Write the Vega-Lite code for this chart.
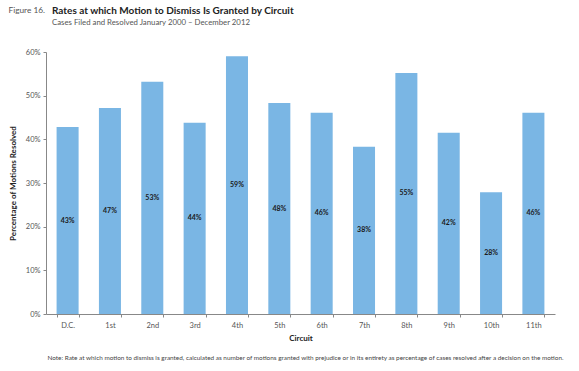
{
  "$schema": "https://vega.github.io/schema/vega-lite/v6.json",
  "width": 509,
  "height": 262,
  "autosize": {"type": "none"},
  "padding": {"left": 46, "top": 52, "right": 24, "bottom": 57},
  "background": "white",
  "config": {"view": {"stroke": null}, "font": "Lato"},
  "title": {
    "text": "Rates at which Motion to Dismiss Is Granted by Circuit",
    "subtitle": "Cases Filed and Resolved January 2000 – December 2012",
    "anchor": "start",
    "frame": "group",
    "dx": 6,
    "offset": -22,
    "font": "Lato",
    "fontSize": 10,
    "fontWeight": "bold",
    "color": "#222222",
    "subtitleFont": "Lato",
    "subtitleFontSize": 7.8,
    "subtitleColor": "#555555",
    "subtitlePadding": 3
  },
  "data": {
    "values": [
      {"circuit": "D.C.", "rate": 0.428},
      {"circuit": "1st", "rate": 0.472},
      {"circuit": "2nd", "rate": 0.532},
      {"circuit": "3rd", "rate": 0.438},
      {"circuit": "4th", "rate": 0.590},
      {"circuit": "5th", "rate": 0.483},
      {"circuit": "6th", "rate": 0.461},
      {"circuit": "7th", "rate": 0.383},
      {"circuit": "8th", "rate": 0.552},
      {"circuit": "9th", "rate": 0.415},
      {"circuit": "10th", "rate": 0.279},
      {"circuit": "11th", "rate": 0.461}
    ]
  },
  "encoding": {
    "x": {
      "field": "circuit",
      "type": "nominal",
      "sort": null,
      "scale": {"paddingInner": 0.48, "paddingOuter": 0.25}
    }
  },
  "layer": [
    {
      "mark": {"type": "bar", "color": "#7ab6e4"},
      "encoding": {
        "x": {
          "field": "circuit",
          "type": "nominal",
          "sort": null,
          "axis": {
            "orient": "bottom",
            "labelAngle": 0,
            "title": "Circuit",
            "titleFontWeight": "bold",
            "titleFontSize": 8,
            "titleColor": "#222222",
            "titlePadding": 6,
            "labelColor": "#555555",
            "labelFontSize": 7.5,
            "labelPadding": 4,
            "tickBand": "extent",
            "tickSize": 3,
            "tickColor": "#888888",
            "domainColor": "#888888"
          }
        },
        "y": {
          "field": "rate",
          "type": "quantitative",
          "scale": {"domain": [0, 0.6]},
          "axis": {
            "values": [0, 0.1, 0.2, 0.3, 0.4, 0.5, 0.6],
            "format": ".0%",
            "grid": false,
            "title": "Percentage of Motions Resolved",
            "titleFontWeight": "bold",
            "titleFontSize": 8,
            "titleColor": "#222222",
            "titlePadding": 8,
            "labelColor": "#555555",
            "labelFontSize": 7.5,
            "labelPadding": 3,
            "tickSize": 3,
            "tickColor": "#888888",
            "domainColor": "#888888"
          }
        }
      }
    },
    {
      "mark": {"type": "text", "fontSize": 7, "fontWeight": "bold", "color": "#1a1a1a", "baseline": "middle"},
      "encoding": {
        "x": {
          "field": "circuit",
          "type": "nominal",
          "sort": null,
          "axis": {
            "orient": "top",
            "labels": false,
            "ticks": false,
            "domain": false,
            "title": "Figure 16.",
            "titleAnchor": "start",
            "titleAlign": "left",
            "titleBaseline": "alphabetic",
            "titleX": -38,
            "titleY": -40,
            "titleFontWeight": "normal",
            "titleFontSize": 8.3,
            "titleColor": "#555555"
          }
        },
        "y": {
          "field": "rate",
          "type": "quantitative",
          "scale": {"domain": [0, 1.2]},
          "axis": {
            "orient": "right",
            "labels": false,
            "ticks": false,
            "domain": false,
            "grid": false,
            "title": "Note: Rate at which motion to dismiss is granted, calculated as number of motions granted with prejudice or in its entirety as percentage of cases resolved after a decision on the motion.",
            "titleAngle": 0,
            "titleAlign": "center",
            "titleBaseline": "alphabetic",
            "titleX": -250,
            "titleY": 307,
            "titleFontWeight": "normal",
            "titleFontSize": 6.4,
            "titleColor": "#444444"
          }
        },
        "text": {"field": "rate", "type": "quantitative", "format": ".0%"}
      }
    }
  ],
  "resolve": {"axis": {"x": "independent", "y": "independent"}, "scale": {"y": "independent"}}
}
